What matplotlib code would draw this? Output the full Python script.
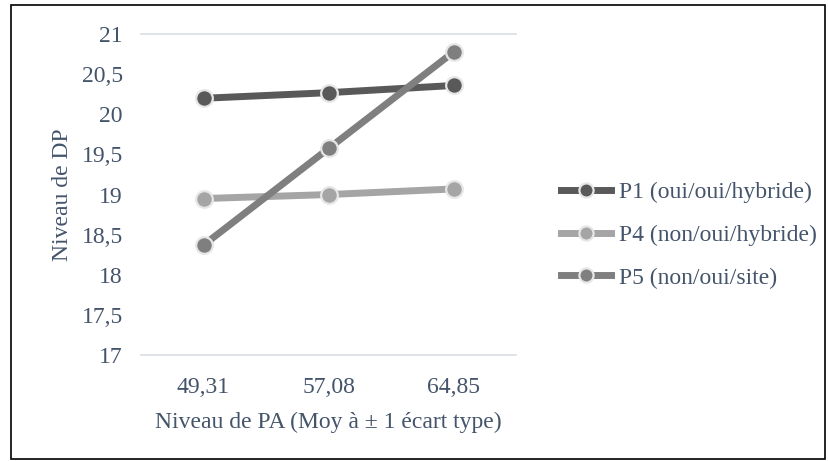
import matplotlib.pyplot as plt
from matplotlib.patches import Rectangle

# data
categories = ["49,31", "57,08", "64,85"]
p1 = [20.20, 20.27, 20.36]
p4 = [18.95, 19.00, 19.07]
p5 = [18.37, 19.575, 20.78]
series_names = ["P1 (oui/oui/hybride)", "P4 (non/oui/hybride)", "P5 (non/oui/site)"]
y_ticks = [17, 17.5, 18, 18.5, 19, 19.5, 20, 20.5, 21]

text_col = "#44546A"
colors = ["#595959", "#A5A5A5", "#7F7F7F"]

plt.rcParams["font.family"] = "serif"
plt.rcParams["font.serif"] = ["Liberation Serif", "DejaVu Serif"]

fs = 17

fig = plt.figure(figsize=(8.29, 4.61), dpi=100)
ax = fig.add_axes([0.170, 0.230, 0.453, 0.696])

x = list(range(len(categories)))
for vals, name, col in zip([p1, p4, p5], series_names, colors):
    ax.plot(x, vals, color=col, lw=5, marker="o", ms=12,
            mfc=col, mec="#E6E6E6", mew=1.6, label=name, zorder=3)

ax.set_xlim(-0.5, 2.5)
ax.set_ylim(17, 21)
ax.set_xticks(x)
ax.set_xticklabels(categories)
ax.set_yticks(y_ticks)
ax.set_yticklabels([f"{v:g}".replace(".", ",") for v in y_ticks])
ax.tick_params(length=0, labelsize=fs, labelcolor=text_col)
ax.tick_params(axis="x", pad=16)
ax.tick_params(axis="y", pad=13)

for s in ["left", "right", "top"]:
    ax.spines[s].set_visible(False)
ax.spines["bottom"].set_color("#D9DDE3")
ax.spines["bottom"].set_linewidth(1.2)
ax.axhline(21, color="#D9DDE3", lw=1.2, zorder=1, clip_on=False)

ax.set_xlabel("Niveau de PA (Moy à ± 1 écart type)", fontsize=fs, color=text_col, labelpad=10)
ax.set_ylabel("Niveau de DP", fontsize=fs, color=text_col, labelpad=6)

leg = fig.legend(loc="center left", bbox_to_anchor=(0.662, 0.490), frameon=False,
                 borderpad=0, handlelength=2.15, handletextpad=0.34, labelspacing=0.9,
                 fontsize=fs, markerscale=0.85)
for t in leg.get_texts():
    t.set_color(text_col)

fig.patches.append(Rectangle((0.013, 0.005), 0.982, 0.984, transform=fig.transFigure,
                             fill=False, edgecolor="black", lw=1.2))

fig.savefig("out.png", dpi=100)
